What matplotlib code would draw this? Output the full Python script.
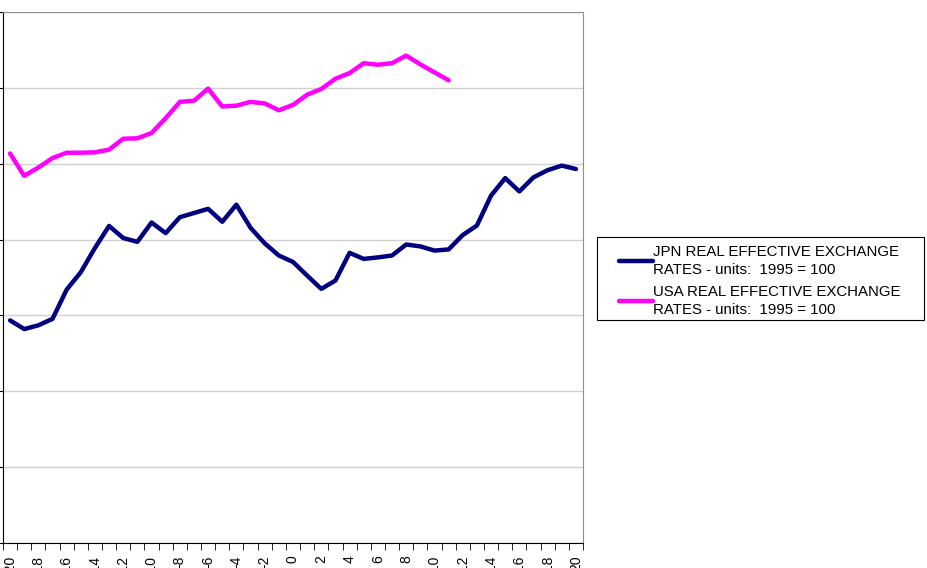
import matplotlib
matplotlib.use('Agg')
import matplotlib.pyplot as plt
from matplotlib.patches import Rectangle
import numpy as np

plt.rcParams['font.family'] = ['Liberation Sans', 'DejaVu Sans']

# 事件时间轴（-20 … 20）
periods = list(range(-20, 21))

jpn_reer = [58.7, 56.4, 57.4, 59.1, 66.8, 71.4, 77.8, 83.6, 80.4, 79.4,
            84.5, 81.7, 85.9, 87.0, 88.1, 84.7, 89.2, 83.1, 79.0, 75.8,
            74.1, 70.5, 67.0, 69.2, 76.5, 74.9, 75.3, 75.8, 78.7, 78.2,
            77.1, 77.4, 81.2, 83.7, 91.6, 96.2, 92.7, 96.4, 98.3, 99.5,
            98.6]
usa_reer = [102.7, 96.8, 99.0, 101.5, 102.9, 102.9, 103.0, 103.7, 106.6, 106.7,
            108.1, 112.0, 116.3, 116.6, 119.8, 115.1, 115.3, 116.3, 115.9, 114.1,
            115.5, 118.2, 119.7, 122.4, 123.9, 126.5, 126.1, 126.5, 128.5, 126.2,
            124.1, 122.0]

jpn_label = 'JPN REAL EFFECTIVE EXCHANGE\nRATES - units:  1995 = 100'
usa_label = 'USA REAL EFFECTIVE EXCHANGE\nRATES - units:  1995 = 100'

W, H = 928, 568
fig = plt.figure(figsize=(W / 100, H / 100), dpi=100)
ax = fig.add_axes([3 / W, 25 / H, 580 / W, 531 / H])

ax.plot(periods, jpn_reer, color='#000080', lw=3.2, label=jpn_label,
        solid_joinstyle='round', solid_capstyle='round')
ax.plot(periods[:len(usa_reer)], usa_reer, color='#FF00FF', lw=3.2, label=usa_label,
        solid_joinstyle='round', solid_capstyle='round')

ax.set_xlim(-20.5, 20.5)
ax.set_ylim(0, 140)

# 网格线
ax.set_yticks(np.arange(0, 141, 20))
ax.yaxis.grid(True, color='#D0D0D0', lw=1)
ax.set_axisbelow(True)
ax.tick_params(axis='y', direction='out', length=4, labelleft=False, color='black')

# x轴：类别刻度线在类别之间，标签每隔一个
ax.set_xticks(periods[::2])
ax.set_xticklabels([str(p) for p in periods[::2]], rotation=90, fontsize=10)
ax.set_xticks(np.arange(-20.5, 21, 1), minor=True)
ax.tick_params(axis='x', which='major', length=0, pad=9)
ax.tick_params(axis='x', which='minor', direction='out', length=5, color='black')

for side in ['top', 'right']:
    ax.spines[side].set_color('#909090')
for side in ['left', 'bottom']:
    ax.spines[side].set_color('black')

# 图例：手动画外框，左侧留白
fig.patches.append(Rectangle((597 / W, (H - 320) / H), 327 / W, 83 / H,
                             transform=fig.transFigure, facecolor='white',
                             edgecolor='black', lw=0.8, zorder=0))
leg = fig.legend(loc='center left', bbox_to_anchor=(619 / W, (H - 281) / H),
                 fontsize=10.8, frameon=False,
                 handlelength=2.3, handletextpad=0.0, labelspacing=0.55,
                 borderpad=0, borderaxespad=0)
for t in leg.get_texts():
    t.set_linespacing(1.35)

fig.savefig('out.png', dpi=100, facecolor='white')
